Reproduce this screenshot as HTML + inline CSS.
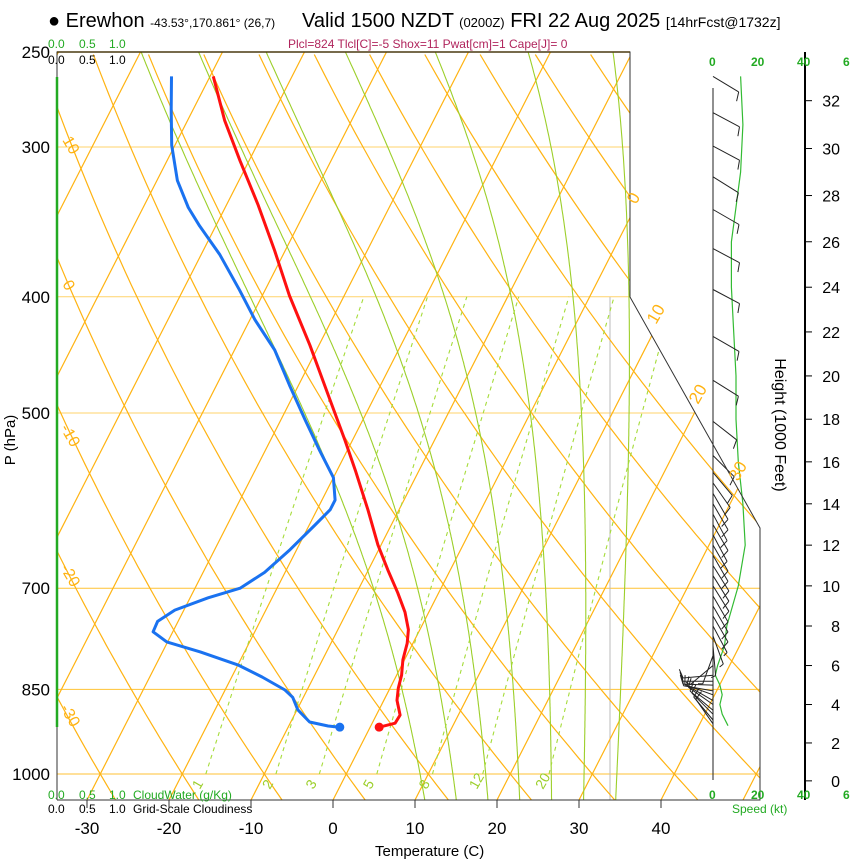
<!DOCTYPE html>
<html><head><meta charset="utf-8">
<style>
html,body{margin:0;padding:0;background:#fff;}
svg{display:block;font-family:"Liberation Sans",Arial,sans-serif;}
</style></head>
<body>
<svg id="chart" width="850" height="860" viewBox="0 0 850 860" xmlns="http://www.w3.org/2000/svg">
<defs>
<clipPath id="plotclip"><polygon points="57,52 630,52 630,297 760,528 760,800 57,800"/></clipPath>
</defs>
<rect x="0" y="0" width="850" height="860" fill="#fff"/>
<g id="grid" clip-path="url(#plotclip)"></g>
<g id="series"></g>
<g id="winds"></g>
<g id="frame">
<polyline points="57,800 57,52 630,52 630,297 760,528 760,800 57,800" fill="none" stroke="#333" stroke-width="1"/>
<line x1="57" y1="52" x2="630" y2="52" stroke="#4a3a10" stroke-width="1.5"/>
<line x1="57" y1="77" x2="57" y2="727" stroke="#22aa22" stroke-width="2.5"/>
<line x1="805" y1="52" x2="805" y2="800" stroke="#000" stroke-width="2"/>
</g>
<g id="labels">
<text x="48" y="27" font-size="20">● Erewhon <tspan font-size="12">-43.53°,170.861° (26,7)</tspan></text>
<text x="302" y="27" font-size="20">Valid 1500 NZDT <tspan font-size="13">(0200Z)</tspan> FRI 22 Aug 2025 <tspan font-size="14">[14hrFcst@1732z]</tspan></text>
<text x="288" y="48" font-size="12" fill="#b0245c">Plcl=824 Tlcl[C]=-5 Shox=11 Pwat[cm]=1 Cape[J]= 0</text>
<g font-size="12" fill="#22aa22"><text x="48" y="48">0.0</text><text x="79" y="48">0.5</text><text x="109" y="48">1.0</text></g>
<g font-size="12" fill="#000"><text x="48" y="64">0.0</text><text x="79" y="64">0.5</text><text x="109" y="64">1.0</text></g>
<g font-size="12" fill="#22aa22"><text x="48" y="799">0.0</text><text x="79" y="799">0.5</text><text x="109" y="799">1.0</text><text x="133" y="799">CloudWater (g/Kg)</text></g>
<g font-size="12" fill="#000"><text x="48" y="813">0.0</text><text x="79" y="813">0.5</text><text x="109" y="813">1.0</text><text x="133" y="813">Grid-Scale Cloudiness</text></g>
<text x="375" y="856" font-size="15">Temperature (C)</text>
<text transform="translate(15,440) rotate(-90)" text-anchor="middle" font-size="15">P (hPa)</text>
<text transform="translate(775,425) rotate(90)" text-anchor="middle" font-size="16">Height (1000 Feet)</text>
<text x="732" y="813" font-size="12" fill="#22aa22">Speed (kt)</text>
<g font-size="12" font-weight="bold" fill="#22aa22"><text x="709" y="66">0</text><text x="751" y="66">20</text><text x="797" y="66">40</text><text x="843" y="66">6</text></g>
<g font-size="12" font-weight="bold" fill="#22aa22"><text x="709" y="799">0</text><text x="751" y="799">20</text><text x="797" y="799">40</text><text x="843" y="799">6</text></g>
</g>
<g id="axes"></g>
</svg>
<script>
// ---- data ----
const pressTicks = [250, 300, 400, 500, 700, 850, 1000];
const isobarLines = [300, 400, 500, 700, 850, 1000];
const tempTicks = [-30, -20, -10, 0, 10, 20, 30, 40];
const mixRatios = [1, 2, 3, 5, 8, 12, 20];
const moistThetaW = [9, 13, 17, 21, 25, 29, 33];
const heightTicks = [0, 2, 4, 6, 8, 10, 12, 14, 16, 18, 20, 22, 24, 26, 28, 30, 32];
const tempP = [914, 907, 893, 868, 848, 827, 803, 778, 758, 733, 706, 676, 644, 602, 558, 527, 488, 439, 399, 366, 335, 308, 285, 262];
const tempC = [1.1, 2.8, 2.9, 1.6, 1.0, 0.6, -0.2, -0.7, -1.4, -2.9, -5.0, -7.6, -10.4, -13.8, -17.8, -20.9, -25.2, -31.1, -36.7, -41.3, -46.2, -51.1, -55.5, -59.6];
const dewP = [914, 912, 905, 884, 863, 851, 830, 811, 791, 776, 761, 746, 730, 713, 700, 679, 650, 620, 602, 591, 566, 537, 507, 474, 443, 418, 395, 369, 349, 337, 320, 299, 279, 262];
const dewC = [-3.7, -5.2, -7.7, -9.9, -11.3, -12.7, -16.3, -20.0, -25.4, -30.1, -32.4, -32.5, -31.1, -27.8, -24.5, -22.5, -20.8, -19.3, -18.4, -18.4, -20.0, -23.4, -27.0, -31.1, -35.1, -39.4, -43.1, -47.7, -52.0, -54.5, -57.5, -60.4, -62.7, -64.7];
const spdH = [33, 31, 29, 27.5, 26, 24, 22, 20, 18, 16, 14, 12, 10, 8, 7, 6, 5.5, 5, 4.5, 4, 3.5, 2.9];
const spdV = [12, 13, 12, 10, 8, 8, 9, 10, 10, 11, 13, 14, 11, 6, 5, 2, 1, 3, 4, 3, 4, 6.5];
const barbH = [33.0, 31.5, 30.1, 28.8, 27.4, 25.7, 23.9, 21.8, 19.8, 17.9, 16.3, 15.5, 15.0, 14.5, 14.0, 13.5, 13.0, 12.5, 12.0, 11.5, 11.0, 10.5, 10.0, 9.5, 9.0, 8.5, 8.0, 7.5, 7.0, 6.5, 6.0, 5.5, 5.2, 5.0, 4.7, 4.5, 4.2, 4.0, 3.7, 3.5, 3.2, 3.0];
const barbDir = [121, 118, 118, 122, 120, 118, 118, 120, 122, 128, 135, 140, 145, 150, 150, 152, 150, 152, 150, 150, 148, 148, 148, 150, 150, 150, 152, 160, 175, 200, 230, 265, 270, 272, 280, 290, 300, 305, 310, 315, 320, 325];
const barbSpd = [12, 13, 12, 11, 10, 10, 10, 10, 11, 11, 12, 12, 13, 13, 13, 14, 14, 14, 13, 13, 12, 12, 11, 11, 10, 10, 8, 7, 6, 5, 5, 10, 10, 10, 10, 10, 10, 10, 10, 10, 10, 10];

// ---- axis functions ----
const NS = 'http://www.w3.org/2000/svg';
const pBot = 1000 * Math.exp(26 / 520.8);
function yP(p) { return 774 - 520.8 * Math.log(1000 / p); }
function xTY(T, y) { return 333 + 8.2 * T + 0.51 * (800 - y); }
function xT(T, p) { return xTY(T, yP(p)); }
function hToY(kft) { const m = kft * 304.8; const p = 1013.25 * Math.pow(1 - 2.25577e-5 * m, 5.2559); return yP(p); }
function xSpd(s) { return 713 + 2.3 * s; }
function mk(tag, attrs, parent) { const e = document.createElementNS(NS, tag); for (const k in attrs) e.setAttribute(k, attrs[k]); parent.appendChild(e); return e; }
function es(Tc) { return 6.112 * Math.exp(17.67 * Tc / (Tc + 243.5)); }

const grid = document.getElementById('grid');
const series = document.getElementById('series');
const winds = document.getElementById('winds');
const axes = document.getElementById('axes');

isobarLines.forEach(p => {
  const l = mk('line', { x1: 57, y1: yP(p), x2: 760, y2: yP(p), stroke: p >= 700 ? '#ffc233' : '#ffd36b', 'stroke-width': 1 }, grid);
  
  
});
const gv = mk('line', { x1: 610, y1: 297, x2: 610, y2: 800, stroke: '#bbb', 'stroke-width': 1 }, grid);


for (let T = -130; T <= 60; T += 10) {
  const l = mk('line', { x1: xTY(T, 800), y1: 800, x2: xTY(T, 52), y2: 52, stroke: '#ffb312', 'stroke-width': 1.2 }, grid);
  
  
}
for (let th = -50; th <= 220; th += 10) {
  const pts = [];
  for (let p = pBot; p >= 245; p -= 10) { const T = (th + 273.15) * Math.pow(p / 1000, 0.2857) - 273.15; pts.push(xT(T, p).toFixed(1) + ',' + yP(p).toFixed(1)); }
  const l = mk('polyline', { points: pts.join(' '), fill: 'none', stroke: '#ffb312', 'stroke-width': 1.2 }, grid);
  
  
}
function moistStep(Tk, p, dp) {
  const Tc = Tk - 273.15; const e = es(Tc); const rs = 0.622 * e / (p - e);
  const Rd = 287, cp = 1005, Lv = 2.5e6;
  const dTdp = (1 / p) * (Rd * Tk + Lv * rs) / (cp + (Lv * Lv * rs * 0.622) / (Rd * Tk * Tk));
  return Tk + dTdp * dp;
}
moistThetaW.forEach(tw => {
  let pts = []; let Tk = tw + 273.15;
  let down = []; let T2 = Tk;
  for (let p = 1000; p < pBot; p += 2) { T2 = moistStep(T2, p, 2); down.push([T2, p + 2]); }
  down.reverse().forEach(a => pts.push(xT(a[0] - 273.15, a[1]).toFixed(1) + ',' + yP(a[1]).toFixed(1)));
  for (let p = 1000; p > 245; p -= 2) { pts.push(xT(Tk - 273.15, p).toFixed(1) + ',' + yP(p).toFixed(1)); Tk = moistStep(Tk, p, -2); }
  const l = mk('polyline', { points: pts.join(' '), fill: 'none', stroke: '#9ccf2a', 'stroke-width': 1.1 }, grid);
  
  
});
function tdFromW(w, p) { const e = w * p / (622 + w); const L = Math.log(e / 6.112); return 243.5 * L / (17.67 - L); }
mixRatios.forEach(w => {
  const pts = [];
  for (let p = 1000; p >= 400; p -= 10) pts.push(xT(tdFromW(w, p), p).toFixed(1) + ',' + yP(p).toFixed(1));
  const l = mk('polyline', { points: pts.join(' '), fill: 'none', stroke: '#a6dc3a', 'stroke-width': 1.1, 'stroke-dasharray': '4,4' }, grid);
  
  
  const lx = xT(tdFromW(w, 1000), 1000) - 6, ly = 790;
  const t = mk('text', { x: lx, y: ly, 'font-size': 14, fill: '#9ccf2a', transform: 'rotate(-60 ' + lx + ' ' + ly + ')' }, axes);
  t.textContent = w;
  
  
});
[[0, 636, 205], [10, 656, 325], [20, 698, 405], [30, 738, 482]].forEach(a => {
  const t = mk('text', { x: a[1], y: a[2], 'font-size': 17, fill: '#ffb312', transform: 'rotate(-60 ' + a[1] + ' ' + a[2] + ')' }, axes);
  t.textContent = a[0];
  
  
});
[[10, 62, 140], [0, 62, 284], [-10, 60, 428], [-20, 60, 568], [-30, 60, 708]].forEach(a => {
  const t = mk('text', { x: a[1], y: a[2], 'font-size': 16, fill: '#ffb312', transform: 'rotate(60 ' + a[1] + ' ' + a[2] + ')' }, axes);
  t.textContent = a[0];
  
  
});
pressTicks.forEach(p => {
  const t = mk('text', { x: 50, y: yP(p) + 6, 'font-size': 17, 'text-anchor': 'end' }, axes);
  t.textContent = p;
  
  
});
tempTicks.forEach(T => {
  const x = xTY(T, 800);
  const l = mk('line', { x1: x, y1: 800, x2: x, y2: 808, stroke: '#333' }, axes);
  
  
  const t = mk('text', { x: x, y: 834, 'font-size': 17, 'text-anchor': 'middle' }, axes);
  t.textContent = T;
  
  
});
heightTicks.forEach(h => {
  const y = hToY(h);
  const l = mk('line', { x1: 805, y1: y, x2: 812, y2: y, stroke: '#000' }, axes);
  
  
  const t = mk('text', { x: 840, y: y + 6, 'font-size': 16, 'text-anchor': 'end' }, axes);
  t.textContent = h;
  
  
});
function profile(P, T, color, name) {
  const pts = P.map((p, i) => xT(T[i], p).toFixed(1) + ',' + yP(p).toFixed(1)).join(' ');
  const l = mk('polyline', { points: pts, fill: 'none', stroke: color, 'stroke-width': 3, 'stroke-linejoin': 'round' }, series);
  
  
  const c = mk('circle', { cx: xT(T[0], P[0]), cy: yP(P[0]), r: 4.5, fill: color }, series);
  
  
}
profile(tempP, tempC, '#ff1010', 'temperature-line');
profile(dewP, dewC, '#1a72f0', 'dewpoint-line');
const axl = mk('line', { x1: 713, y1: 88, x2: 713, y2: 780, stroke: '#222' }, winds);


const sp = mk('polyline', { points: spdH.map((h, i) => xSpd(spdV[i]).toFixed(1) + ',' + hToY(h).toFixed(1)).join(' '), fill: 'none', stroke: '#33bb33', 'stroke-width': 1.2 }, winds);


barbH.forEach((h, i) => {
  const y = hToY(h), r = barbDir[i] * Math.PI / 180, ux = Math.sin(r), uy = -Math.cos(r);
  const ex = 713 + 30 * ux, ey = y + 30 * uy;
  let d = 'M713 ' + y.toFixed(1) + 'L' + ex.toFixed(1) + ' ' + ey.toFixed(1);
  const fx = -uy * 0.9 + ux * 0.3, fy = ux * 0.9 + uy * 0.3;
  let s = barbSpd[i], k = 0;
  while (s >= 10) { const bx = ex - ux * 4 * k, by = ey - uy * 4 * k; d += 'M' + bx.toFixed(1) + ' ' + by.toFixed(1) + 'l' + (fx * 10).toFixed(1) + ' ' + (fy * 10).toFixed(1); s -= 10; k++; }
  if (s >= 5) { const bx = ex - ux * 4 * k, by = ey - uy * 4 * k; d += 'M' + bx.toFixed(1) + ' ' + by.toFixed(1) + 'l' + (fx * 5).toFixed(1) + ' ' + (fy * 5).toFixed(1); }
  const b = mk('path', { d: d, fill: 'none', stroke: '#222', 'stroke-width': 1 }, winds);
  
  
});
</script>
</body></html>
